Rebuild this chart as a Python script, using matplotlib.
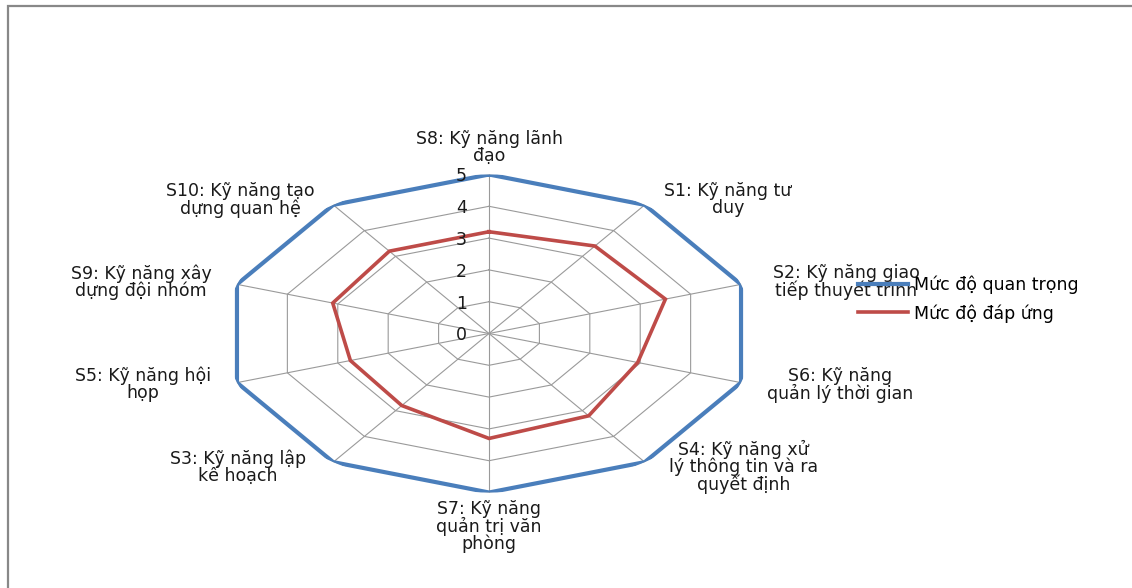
import numpy as np
import matplotlib
matplotlib.use("Agg")
import matplotlib.pyplot as plt
from matplotlib.patches import Rectangle

plt.rcParams['font.family'] = ['DejaVu Sans']

# ---- data ----
categories = [
    "S8: Kỹ năng lãnh\nđạo",
    "S1: Kỹ năng tư\nduy",
    "S2: Kỹ năng giao\ntiếp thuyết trình",
    "S6: Kỹ năng\nquản lý thời gian",
    "S4: Kỹ năng xử\nlý thông tin và ra\nquyết định",
    "S7: Kỹ năng\nquản trị văn\nphòng",
    "S3: Kỹ năng lập\nkế hoạch",
    "S5: Kỹ năng hội\nhọp",
    "S9: Kỹ năng xây\ndựng đội nhóm",
    "S10: Kỹ năng tạo\ndựng quan hệ",
]
importance = [5, 5, 5, 5, 5, 5, 5, 5, 5, 5]
response = [3.2, 3.4, 3.5, 2.95, 3.2, 3.3, 2.8, 2.75, 3.1, 3.2]
series_names = ["Mức độ quan trọng", "Mức độ đáp ứng"]
radial_ticks = [0, 1, 2, 3, 4, 5]

# ---- layout ----
W, H = 1132, 588
fig = plt.figure(figsize=(W / 100, H / 100), dpi=100)
fig.patch.set_facecolor('white')

cx, cy, rx, ry = 489, 333.5, 265, 159
ax = fig.add_axes([(cx - rx) / W, (H - cy - ry) / H, 2 * rx / W, 2 * ry / H],
                  projection='polar')
ax.set_theta_zero_location('N')
ax.set_theta_direction(-1)
ax.set_ylim(0, 5)
ax.grid(False)
ax.set_xticks([])
ax.set_yticks([])
ax.spines['polar'].set_visible(False)
ax.patch.set_alpha(0)

n = len(categories)
theta = np.linspace(0, 2 * np.pi, n, endpoint=False)
theta_c = np.append(theta, theta[0])

grid_color = '#9a9a9a'
for lv in radial_ticks[1:]:
    ax.plot(theta_c, [lv] * (n + 1), color=grid_color, lw=0.8, zorder=1)
for t in theta:
    ax.plot([t, t], [0, 5], color=grid_color, lw=0.8, zorder=1)

l1, = ax.plot(theta_c, importance + importance[:1], color='#4A7EBB', lw=3.0,
              zorder=3, label=series_names[0], solid_joinstyle='miter')
l2, = ax.plot(theta_c, response + response[:1], color='#BE4B48', lw=2.6,
              zorder=3, label=series_names[1], solid_joinstyle='miter')

fs = 12.5
txt_color = '#1a1a1a'
for v in radial_ticks:
    ax.annotate(str(v), xy=(0, v), xytext=(-22, -2), textcoords='offset pixels',
                ha='right', va='center', fontsize=fs, color=txt_color)

label_offsets = [(0, 27), (83, 5), (105, 2), (99, -2), (99, -5),
                 (0, -34), (-95, -5), (-94, -2), (-96, 2), (-93, 5)]
for t, lab, off in zip(theta, categories, label_offsets):
    ax.annotate(lab, xy=(t, 5), xytext=off, textcoords='offset pixels',
                ha='center', va='center', fontsize=fs, color=txt_color,
                linespacing=0.92, annotation_clip=False)

ax.set_aspect('auto')

fig.legend(handles=[l1, l2], loc='upper left',
           bbox_to_anchor=(858 / W, (H - 276) / H), frameon=False,
           fontsize=fs, handlelength=2.9, handletextpad=0.3,
           labelspacing=0.55, borderpad=0, borderaxespad=0)

fig.patches.append(Rectangle((8 / W, -0.1), 2, (H - 6) / H + 0.1,
                             transform=fig.transFigure, fill=False,
                             edgecolor='#888888', lw=1.6))

fig.savefig('out.png', dpi=100)
